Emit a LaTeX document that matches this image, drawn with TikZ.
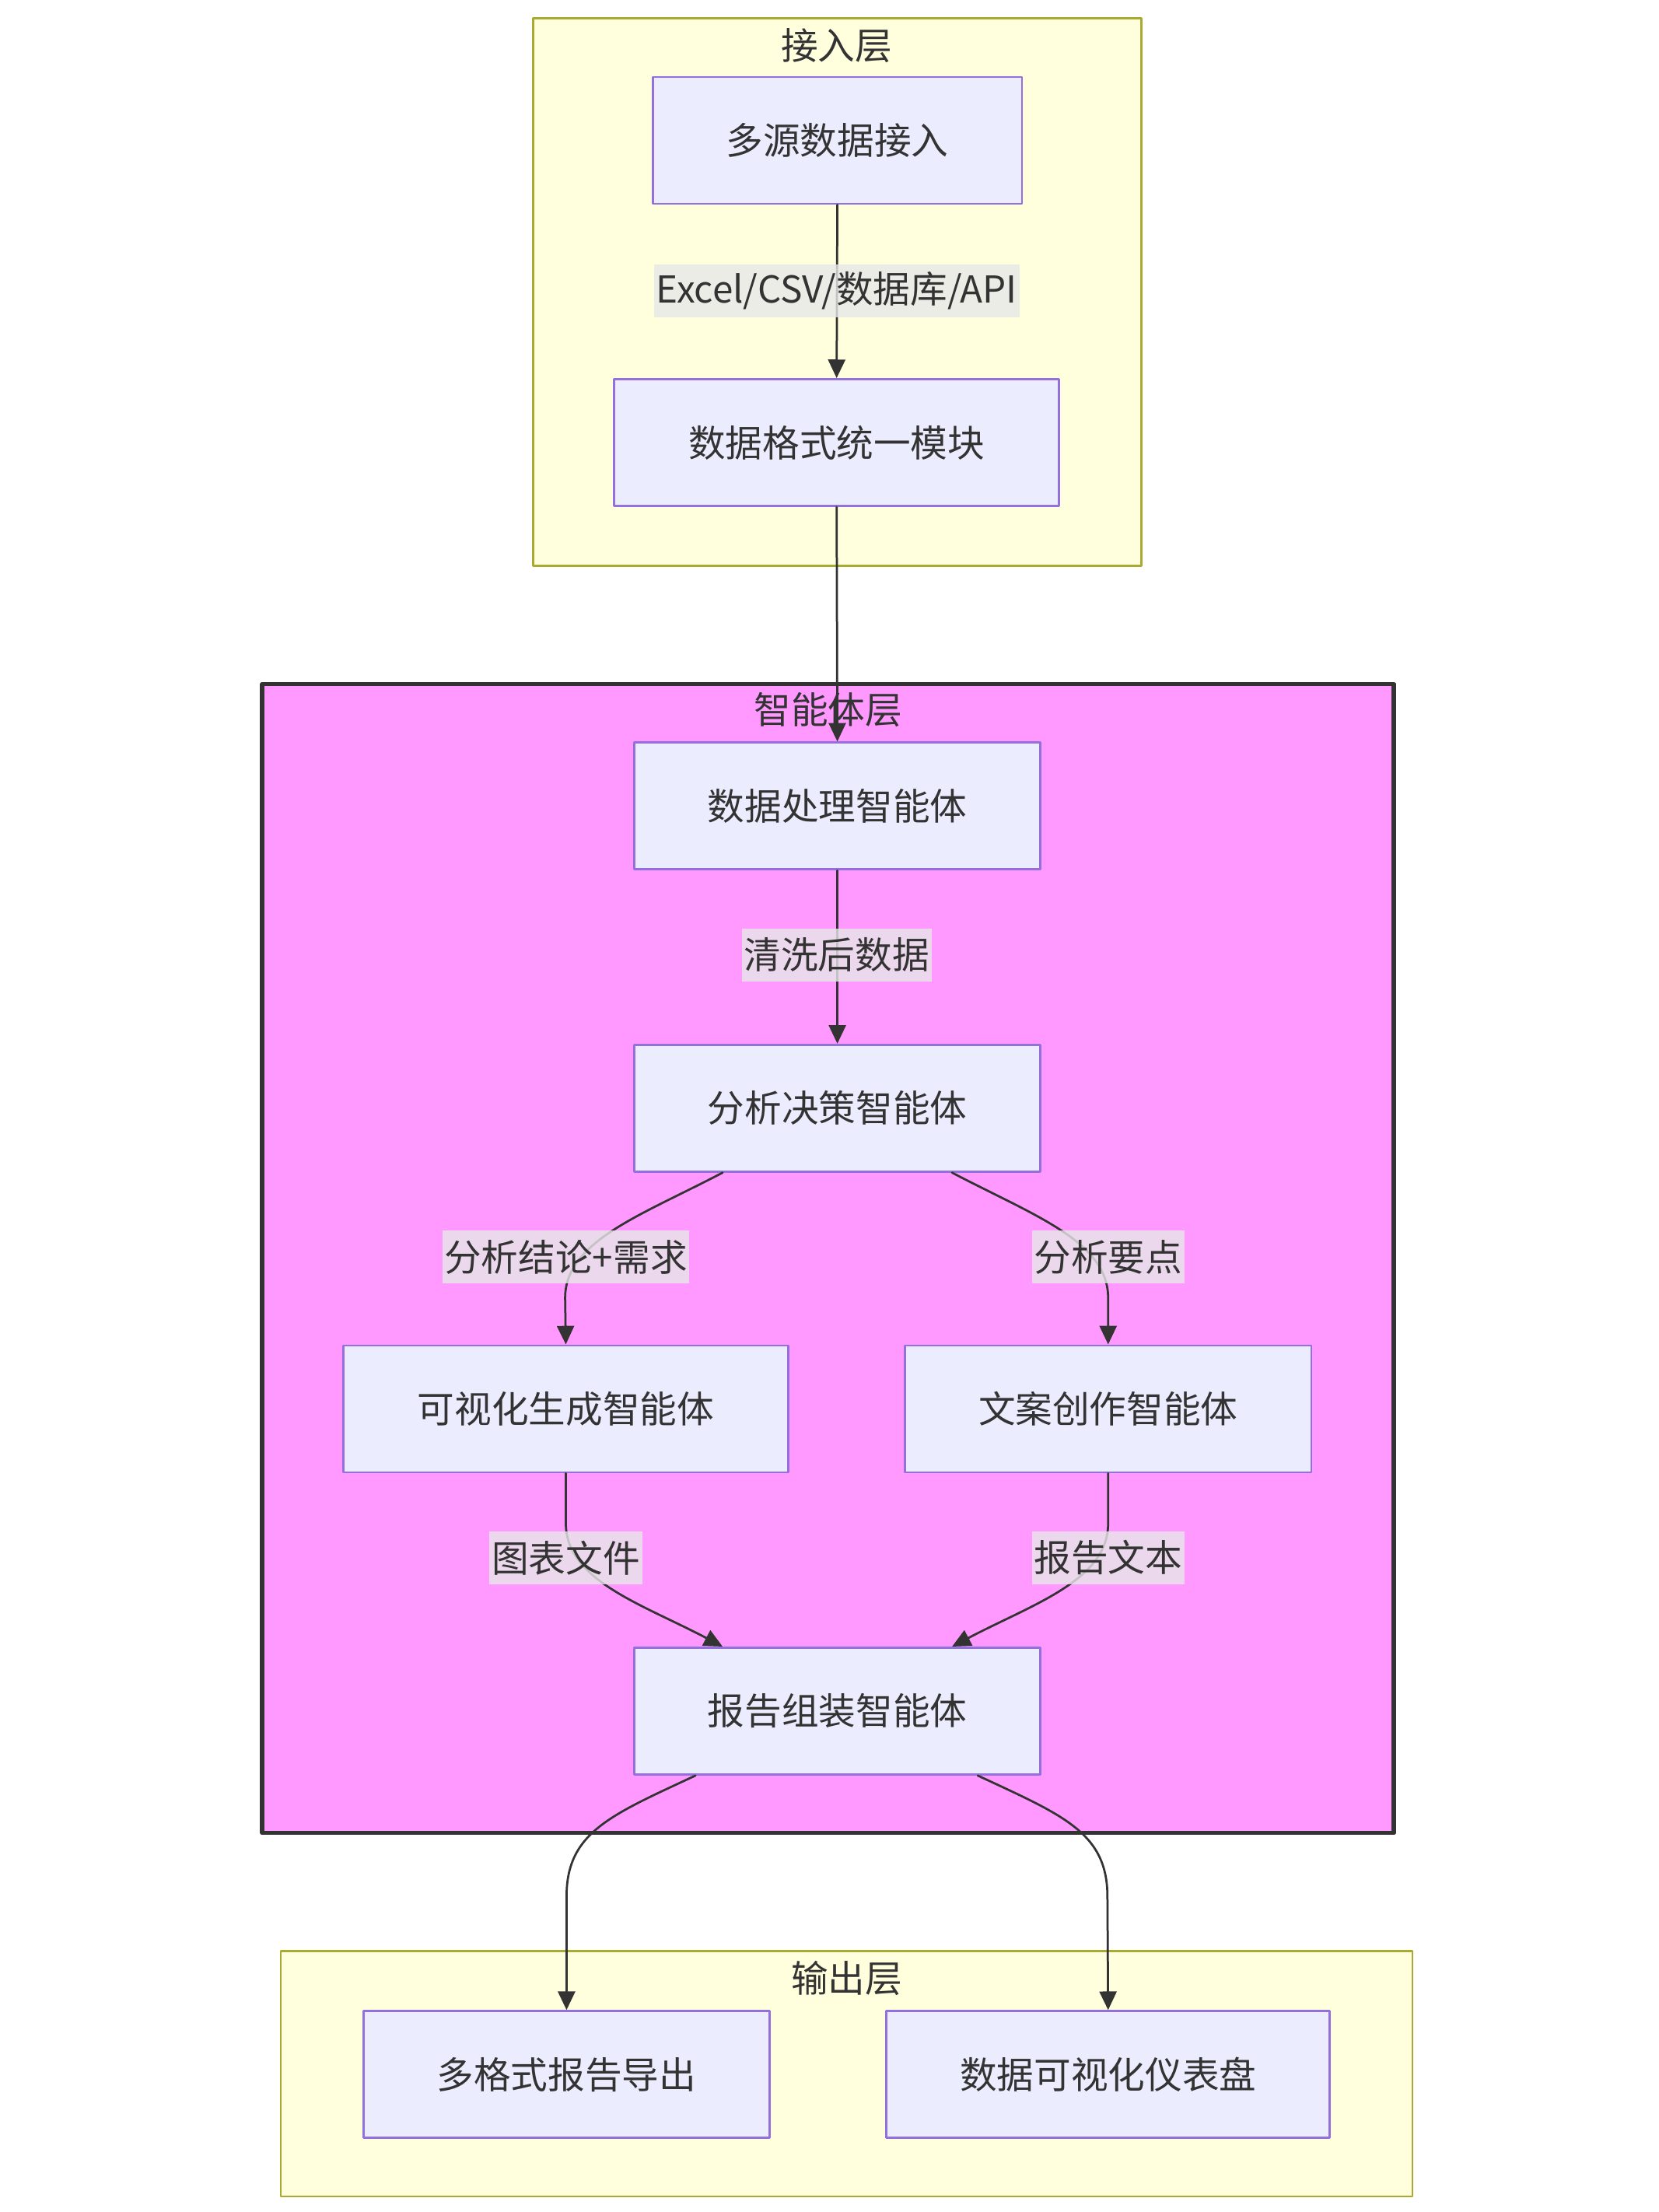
\documentclass[tikz,border=0pt]{standalone}
\usepackage{fontspec}
\setmainfont{Noto Sans CJK SC}
\usepackage{xcolor}
\usetikzlibrary{positioning,arrows.meta}

\definecolor{ink}{HTML}{333333}
\definecolor{layerfill}{HTML}{FFFFDE}
\definecolor{layerline}{HTML}{AAAA33}
\definecolor{agentfill}{HTML}{FF99FF}
\definecolor{boxfill}{HTML}{ECECFF}
\definecolor{boxline}{HTML}{9370DB}
\definecolor{lblbg}{HTML}{E8E8E8}

\begin{document}
\begin{tikzpicture}[x=1pt,y=-1pt, font=\fontsize{26}{30}\selectfont, text=ink, line cap=round, line join=round]
				\useasboundingbox (0,0) rectangle (1164,1552);
				
				% ===== styles =====
				\tikzset{layer/.style={draw=layerline, fill=layerfill, line width=1.5pt},
					agentlayer/.style={draw=ink, fill=agentfill, line width=3pt},
					box/.style={draw=boxline, fill=boxfill, line width=1.5pt, minimum height=89, inner sep=0pt},
					link/.style={draw=ink, line width=1.5pt, -{Triangle[length=13pt,width=12pt]}},
					lbl/.style={fill=lblbg, fill opacity=0.8, text opacity=1, minimum height=37, inner xsep=1.5pt, inner ysep=0pt}}
				
				% ===== layers =====
				\draw[layer] (374,13) rectangle (801,397);
				\node (inTitle) at (587,32) {接入层};
				\draw[agentlayer] (184,480) rectangle (978,1286);
				\node (agentTitle) at (581,498) {智能体层};
				\draw[layer] (197,1369) rectangle (991,1541);
				\node (outTitle) at (594,1388) {输出层};
				
				% ===== boxes =====
				\node[box, minimum width=259] (src) at (587.5,98.5) {多源数据接入};
				\node[box, minimum width=312] (fmt) at (587,310.5) {数据格式统一模块};
				\node[box, minimum width=285] (proc) at (587.5,565.5) {数据处理智能体};
				\node[box, minimum width=285] (ana) at (587.5,777.5) {分析决策智能体};
				\node[box, minimum width=312] (viz) at (397,988.5) {可视化生成智能体};
				\node[box, minimum width=285] (copy) at (777.5,988.5) {文案创作智能体};
				\node[box, minimum width=285] (asm) at (587.5,1200.5) {报告组装智能体};
				\node[box, minimum width=285] (exp) at (397.5,1455.5) {多格式报告导出};
				\node[box, minimum width=311] (dash) at (777.5,1455.5) {数据可视化仪表盘};
				
				% ===== links =====
				\draw[link] (src.south) -- (fmt.north);
				\draw[link] (fmt.south) -- (proc.north);
				\draw[link] (proc.south) -- (ana.north);
				\draw[link] ([xshift=-80.5pt]ana.south) .. controls +(-57,30) and +(0,-40) .. ++(-110.5,88) -- (viz.north);
				\draw[link] ([xshift=80.5pt]ana.south) .. controls +(57,30) and +(0,-40) .. ++(109.5,88) -- (copy.north);
				\draw[link] (viz.south) -- ++(0,35) .. controls +(0,40) and +(-57,-30) .. ([xshift=-80.5pt]asm.north);
				\draw[link] (copy.south) -- ++(0,35) .. controls +(0,40) and +(57,-30) .. ([xshift=80.5pt]asm.north);
				\draw[link] ([xshift=-99.5pt]asm.south) .. controls +(-60,28) and +(0,-45) .. ++(-90.5,85) -- (exp.north);
				\draw[link] ([xshift=98.5pt]asm.south) .. controls +(60,28) and +(0,-45) .. ++(91,85) -- (dash.north);
				
				% ===== link labels =====
				\foreach \x/\y/\t [count=\n] in {587/204/{Excel/CSV/数据库/API}, 587/670/清洗后数据, 397/882/分析结论+需求,
					777.5/882/分析要点, 397/1093/图表文件, 777.5/1093/报告文本}{
					\node[lbl] (lbl\n) at (\x,\y) {\t};
				}
			\end{tikzpicture}
\end{document}
